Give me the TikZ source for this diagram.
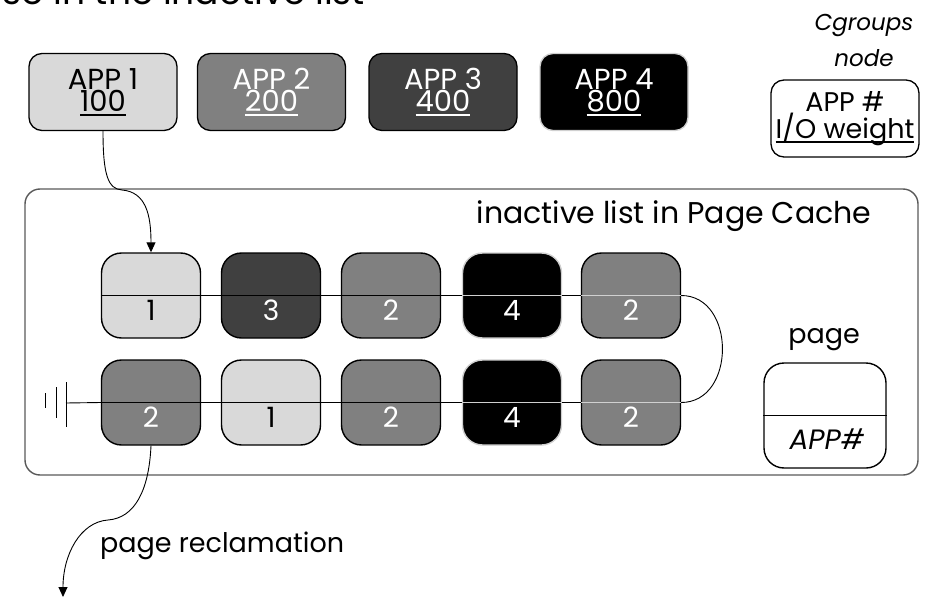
\documentclass[tikz,border=0pt]{standalone}
\usepackage{fontspec}
\setmainfont{Poppins}
\usetikzlibrary{arrows.meta}
\definecolor{pglight}{HTML}{D9D9D9}
\definecolor{pgmid}{HTML}{808080}
\definecolor{pgdark}{HTML}{404040}
\definecolor{rimlight}{HTML}{D0D0D0}
\definecolor{frame}{HTML}{595959}
% underline drawn as a rule under the text, in the text colour
\newcommand\ulin[1]{\leavevmode\setbox0=\hbox{#1}\rlap{\copy0}\rule[-4.5pt]{\wd0}{1.8pt}}
\begin{document}
\begin{tikzpicture}[x=1pt,y=-1pt,
  txt/.style={font=\fontsize{27}{27}\selectfont, inner sep=0pt},
  appbox/.style={draw, line width=1.3pt, rounded corners=13pt, minimum width=148pt,
    minimum height=77pt, align=center, inner sep=0pt,
    font=\fontsize{29}{22}\selectfont},
  pagebox/.style={draw, line width=1.4pt, rounded corners=20pt, minimum width=99pt,
    minimum height=85pt, inner sep=0pt},
  lightbox/.style={pagebox, fill=pglight},
  midbox/.style={pagebox, fill=pgmid},
  darkbox/.style={pagebox, fill=pgdark},
  blackbox/.style={pagebox, fill=black, draw=rimlight},
  num/.style={txt, font=\fontsize{28}{28}\selectfont, yshift=-15pt},
  link/.style={line width=0.9pt},
  arr/.style={line width=0.9pt, -{Triangle[length=10pt,width=9pt]}},
]
\useasboundingbox (0,0) rectangle (930,597);

% heading running off the top edge
\node[anchor=base east, font=\fontsize{36}{36}\selectfont, inner sep=0pt] (heading) at (365,5) {wise in the inactive list};

% application boxes with their I/O weights
\node[appbox, fill=pglight] (app1) at (103,92) {APP 1\\\ulin{100}};
\node[appbox, fill=pgmid, text=white] (app2) at (271.5,92) {APP 2\\\ulin{200}};
\node[appbox, fill=pgdark, text=white] (app3) at (443,92) {APP 3\\\ulin{400}};
\node[appbox, fill=black, draw=rimlight, text=white] (app4) at (614,92) {APP 4\\\ulin{800}};

% legend: cgroups node
\node[align=center, font=\fontsize{23}{36}\selectfont\itshape, inner sep=0pt] (cgtitle) at (864,40) {Cgroups\\node};
\node[appbox, fill=white, font=\fontsize{27}{25}\selectfont] (cgbox) at (845,118.5) {APP \#\\\ulin{I/O weight}};

% page cache frame
\node[draw=frame, line width=1.4pt, rounded corners=15pt, minimum width=893pt, minimum height=286pt] (cache) at (471.5,332) {};
\node[txt, font=\fontsize{30}{30}\selectfont] (cachetitle) at (674,216) {inactive list in Page Cache};

% top row of pages
\node[lightbox] (t1) at (151,295.5) {};
\node[darkbox]  (t2) at (271,295.5) {};
\node[midbox]   (t3) at (391,295.5) {};
\node[blackbox] (t4) at (512,295.5) {};
\node[midbox]   (t5) at (631,295.5) {};
% bottom row of pages
\node[midbox]   (b1) at (151,402.5) {};
\node[lightbox] (b2) at (271,402.5) {};
\node[midbox]   (b3) at (391,402.5) {};
\node[blackbox] (b4) at (512,402.5) {};
\node[midbox]   (b5) at (631,402.5) {};

% list links between pages
\draw[link] (t1.east) -- (t2.west);
\draw[link] (t2.east) -- (t3.west);
\draw[link] (t3.east) -- (t4.west);
\draw[link] (t4.east) -- (t5.west);
\draw[link] (t5.east) .. controls +(55,0) and +(55,0) .. (b5.east);
\draw[link] (b5.west) -- (b4.east);
\draw[link] (b4.west) -- (b3.east);
\draw[link] (b3.west) -- (b2.east);
\draw[link] (b2.west) -- (b1.east);
\coordinate (gnd) at (66,403);
\draw[link] (b1.west) -- (gnd);
\draw[line width=1pt] (66,382) -- (66,427) (56,387) -- (56,418) (45,393) -- (45,408);

% dividers inside each page
\foreach \p in {t1,t2,t3,b1,b2,b3} \draw[link] (\p.west) -- (\p.east);
\foreach \p in {t4,t5,b4,b5} \draw[link, draw=rimlight] (\p.west) -- (\p.east);

% owner numbers
\node[num] (t1n) at (t1) {1};
\node[num, text=white] (t2n) at (t2) {3};
\node[num, text=white] (t3n) at (t3) {2};
\node[num, text=white] (t4n) at (t4) {4};
\node[num, text=white] (t5n) at (t5) {2};
\node[num, text=white] (b1n) at (b1) {2};
\node[num] (b2n) at (b2) {1};
\node[num, text=white] (b3n) at (b3) {2};
\node[num, text=white] (b4n) at (b4) {4};
\node[num, text=white] (b5n) at (b5) {2};

% legend: page
\node[txt] (pgtitle) at (824,340) {page};
\node[pagebox, fill=white, minimum width=122pt, minimum height=105pt] (pglegend) at (825,415.5) {};
\draw[link] (pglegend.west) -- (pglegend.east);
\node[txt, font=\fontsize{28}{28}\selectfont\itshape] (pglabel) at (827,439) {APP\#};

% new page enters the list
\draw[arr] (app1.south) .. controls (103,175) and (108,189) .. (122,190)
  .. controls (146,192) and (151,215) .. (t1.north);

% reclamation leaves from the tail
\coordinate (out) at (63,597);
\draw[arr] (b1.south) .. controls (149,490) and (135,518) .. (108,520)
  .. controls (80,522) and (63,555) .. (out);
\node[txt, anchor=base west] (reclaim) at (100,552) {page reclamation};
\end{tikzpicture}
\end{document}
